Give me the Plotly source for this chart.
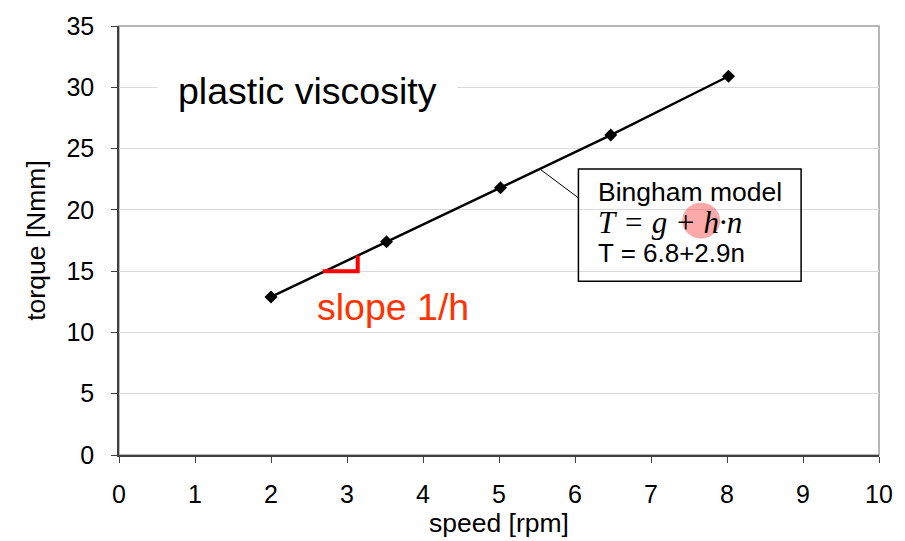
import plotly.graph_objects as go

speed = [2.0, 3.52, 5.02, 6.47, 8.02]
torque = [12.9, 17.4, 21.8, 26.1, 30.9]

x_ticks = list(range(0, 11))
y_ticks = list(range(0, 36, 5))

FONT = "Liberation Sans, Arial, sans-serif"

fig = go.Figure()
fig.add_trace(go.Scatter(
    x=speed, y=torque, mode="lines+markers",
    line=dict(color="black", width=2.5),
    marker=dict(symbol="diamond", size=10, color="black"),
    showlegend=False, hoverinfo="skip"))

fig.update_layout(
    width=905, height=541,
    margin=dict(l=119, r=25, t=23, b=85),
    plot_bgcolor="white", paper_bgcolor="white",
    font=dict(family=FONT, color="black"),
    xaxis=dict(range=[0, 10], tickvals=x_ticks, showgrid=False, zeroline=False,
               showline=True, linecolor="#404040", linewidth=1.5,
               ticks="outside", ticklen=6, tickcolor="#404040",
               tickfont=dict(size=25, family=FONT), ticklabelstandoff=10,
               title=dict(text="speed [rpm]", font=dict(size=26.5, family=FONT), standoff=3)),
    yaxis=dict(range=[0, 35], tickvals=y_ticks, showgrid=True, gridcolor="#d9d9d9", gridwidth=1,
               zeroline=False, showline=True, linecolor="#404040", linewidth=1.5,
               ticks="outside", ticklen=6, tickcolor="#404040",
               tickfont=dict(size=25, family=FONT), ticklabelstandoff=12,
               title=dict(text="torque [Nmm]", font=dict(size=26.5, family=FONT), standoff=13)),
)

shapes = [
    dict(type="rect", xref="paper", yref="paper", x0=0, x1=1, y0=0, y1=1,
         line=dict(color="#a0a0a0", width=1.5), layer="below"),
    dict(type="circle", xref="x", yref="y", x0=7.41, x1=7.91, y0=17.66, y1=20.58,
         fillcolor="rgba(245,50,50,0.42)", line=dict(width=0), layer="above"),
    dict(type="line", xref="x", yref="y", x0=5.545, y0=23.3, x1=6.045, y1=20.98,
         line=dict(color="black", width=1)),
    dict(type="rect", xref="x", yref="y", x0=6.045, x1=8.975, y0=14.18, y1=23.33,
         line=dict(color="black", width=1.5), fillcolor="rgba(0,0,0,0)"),
    dict(type="path", xref="x", yref="y",
         path="M 2.681 14.99 L 3.141 14.99 L 3.141 16.28",
         line=dict(color="#ff0000", width=4)),
]
fig.update_layout(shapes=shapes)

ann = [
    dict(x=2.484, y=29.73, text="plastic viscosity", showarrow=False,
         font=dict(size=37.5, family=FONT, color="black"),
         bgcolor="white", borderpad=20, xanchor="center", yanchor="middle"),
    dict(x=3.60, y=12.07, text="slope 1/h", showarrow=False,
         font=dict(size=37.5, family=FONT, color="#ff3300"),
         xanchor="center", yanchor="middle"),
    dict(x=6.28, y=21.47, text="Bingham model", showarrow=False,
         font=dict(size=26.5, family=FONT), xanchor="left", yanchor="middle"),
    dict(x=6.28, y=18.96,
         text="<i>T&nbsp;=&nbsp;g&nbsp;+&nbsp;h·n</i>",
         showarrow=False,
         font=dict(size=31, family="Liberation Serif, Times New Roman, serif"),
         xanchor="left", yanchor="middle"),
    dict(x=6.28, y=16.45, text="T = 6.8+2.9n", showarrow=False,
         font=dict(size=26, family=FONT), xanchor="left", yanchor="middle"),
]
for a in ann:
    a["xref"] = "x"
    a["yref"] = "y"
fig.update_layout(annotations=ann)

fig.write_html("out.html")
